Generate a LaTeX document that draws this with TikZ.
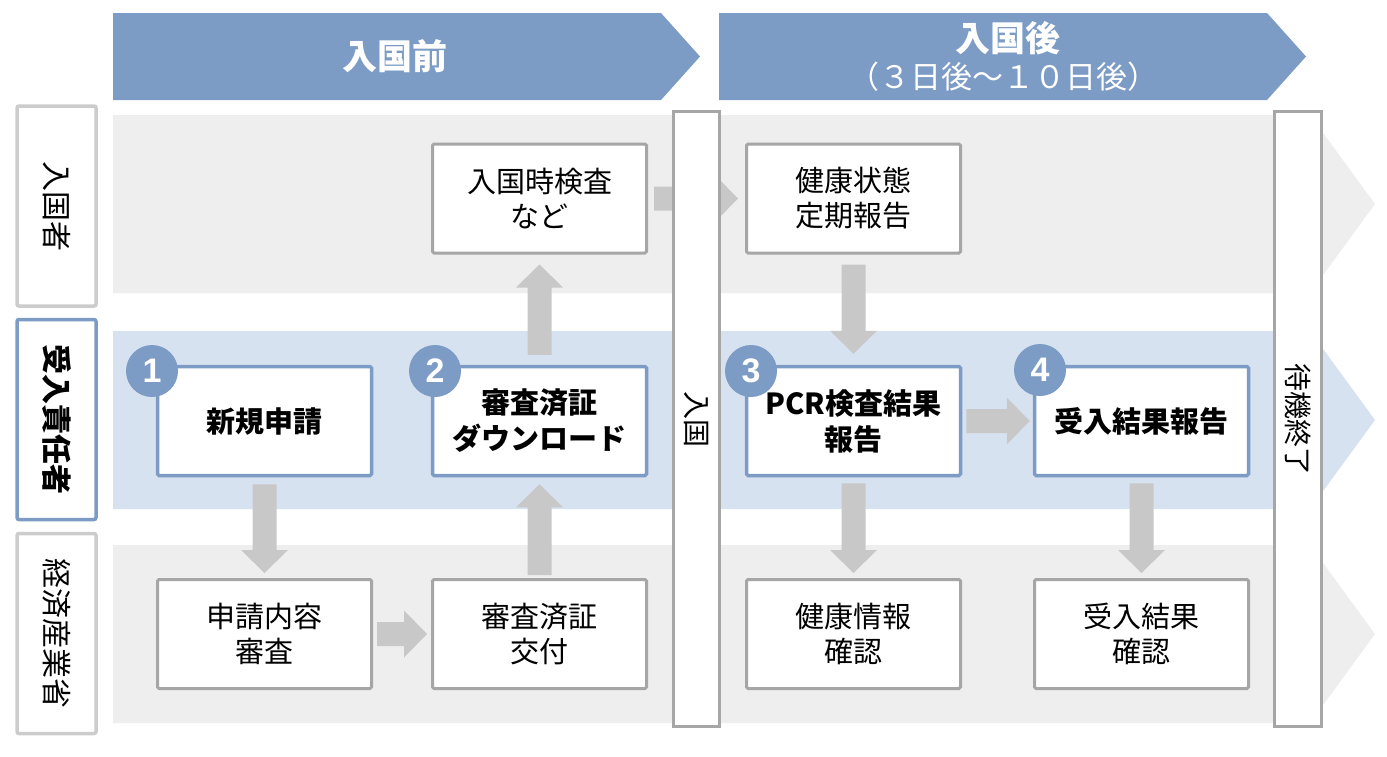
\documentclass[tikz,border=0pt]{standalone}
\usepackage{fontspec}
\setmainfont{Noto Sans CJK JP}
\newfontfamily\numfont{Liberation Sans}
\usetikzlibrary{calc}
\definecolor{hblue}{RGB}{124,155,197}
\definecolor{lband}{RGB}{215,226,241}
\definecolor{gband}{RGB}{238,238,238}
\definecolor{bgray}{RGB}{166,166,166}
\definecolor{lgray}{RGB}{204,204,204}
\definecolor{agray}{RGB}{200,200,200}
\tikzset{
  box/.style={draw=bgray, line width=3pt, fill=white, minimum width=214, minimum height=109,
    inner sep=0pt, align=center, rounded corners=1.5pt, font=\fontsize{29}{35}\selectfont},
  mainbox/.style={box, draw=hblue, line width=3.5pt, font=\bfseries\fontsize{29}{36}\selectfont},
  lanelbl/.style={draw=lgray, line width=3.5pt, fill=white, rotate=-90, minimum width=200,
    minimum height=79, inner sep=0pt, rounded corners=2pt, font=\fontsize{30}{30}\selectfont},
  mainlbl/.style={lanelbl, draw=hblue, font=\bfseries\fontsize{30}{30}\selectfont},
  vbar/.style={draw=bgray, line width=3pt, fill=white, rotate=-90, minimum width=615,
    minimum height=46, inner sep=0pt, font=\fontsize{28}{28}\selectfont},
  numc/.style={circle, fill=hblue, minimum size=52, inner sep=0pt, text=white,
    font=\numfont\bfseries\fontsize{34}{34}\selectfont},
  hdrtxt/.style={text=white, inner sep=0pt, font=\bfseries\fontsize{35}{35}\selectfont},
  hdrsub/.style={text=white, inner sep=0pt, font=\fontsize{31}{31}\selectfont}
}
\newcommand\arrdown[2]{\fill[agray] let \p1=#1, \p2=#2 in
  (\x1-12pt,\y1) -- (\x1+12pt,\y1) -- (\x1+12pt,\y2+23pt) -- (\x1+23.5pt,\y2+23pt) --
  (\x1,\y2) -- (\x1-23.5pt,\y2+23pt) -- (\x1-12pt,\y2+23pt) -- cycle;}
\newcommand\arrup[2]{\fill[agray] let \p1=#1, \p2=#2 in
  (\x1-12pt,\y1) -- (\x1+12pt,\y1) -- (\x1+12pt,\y2-23pt) -- (\x1+23.5pt,\y2-23pt) --
  (\x1,\y2) -- (\x1-23.5pt,\y2-23pt) -- (\x1-12pt,\y2-23pt) -- cycle;}
\newcommand\arrright[2]{\fill[agray] let \p1=#1, \p2=#2 in
  (\x1,\y1-12pt) -- (\x2-23pt,\y1-12pt) -- (\x2-23pt,\y1-23.5pt) -- (\x2,\y1) --
  (\x2-23pt,\y1+23.5pt) -- (\x2-23pt,\y1+12pt) -- (\x1,\y1+12pt) -- cycle;}
\begin{document}
\begin{tikzpicture}[x=1pt,y=-1pt]
\useasboundingbox (0,0) rectangle (1387,756);
% bands
\fill[gband] (113,115) -- (1310,115) -- (1375,204) -- (1310,293) -- (113,293) -- cycle;
\fill[lband] (113,331) -- (1310,331) -- (1375,420) -- (1310,509) -- (113,509) -- cycle;
\fill[gband] (113,545) -- (1310,545) -- (1375,634) -- (1310,723) -- (113,723) -- cycle;
% headers
\fill[hblue] (113,13) -- (661,13) -- (700,56.5) -- (661,100) -- (113,100) -- cycle;
\fill[hblue] (719,13) -- (1267,13) -- (1306,56.5) -- (1267,100) -- (719,100) -- cycle;
\node[hdrtxt] (h1) at (395,56) {入国前};
\node[hdrtxt] (h2) at (1008,38) {入国後};
\node[hdrsub] (h2s) at (1003,77) {（３日後～１０日後）};
% lane labels
\node[lanelbl] (l1) at (56.5,206) {入国者};
\node[mainlbl] (l2) at (56.5,419.5) {受入責任者};
\node[lanelbl] (l3) at (56.5,633.5) {経済産業省};
% boxes
\node[box] (a2) at (539.5,198.5) {入国時検査\\など};
\node[box] (a3) at (853.5,198.5) {健康状態\\定期報告};
\node[mainbox] (b1) at (264.5,421) {新規申請};
\node[mainbox] (b2) at (539.5,421) {審査済証\\ダウンロード};
\node[mainbox] (b3) at (853.5,421) {PCR検査結果\\報告};
\node[mainbox] (b4) at (1141.5,421) {受入結果報告};
\node[box] (c1) at (264.5,634) {申請内容\\審査};
\node[box] (c2) at (539.5,634) {審査済証\\交付};
\node[box] (c3) at (853.5,634) {健康情報\\確認};
\node[box] (c4) at (1141.5,634) {受入結果\\確認};
% arrows
\arrdown{([yshift=-7pt]b1.south)}{([yshift=5pt]c1.north)}
\arrright{([xshift=4pt]c1.east)}{([xshift=-4pt]c2.west)}
\arrup{([yshift=3pt]c2.north)}{([yshift=-7pt]b2.south)}
\arrup{([yshift=10pt]b2.north)}{([yshift=-10pt]a2.south)}
\arrright{([xshift=6pt]a2.east)}{([xshift=-7pt]a3.west)}
\arrdown{([yshift=-10pt]a3.south)}{([yshift=11pt]b3.north)}
\arrdown{([yshift=-6pt]b3.south)}{([yshift=5pt]c3.north)}
\arrright{([xshift=4pt]b3.east)}{([xshift=-3pt]b4.west)}
\arrdown{([yshift=-6pt]b4.south)}{([yshift=5pt]c4.north)}
% vertical bars
\node[vbar] (v1) at (696.5,419) {入国};
\node[vbar, minimum height=47] (v2) at (1298,419) {待機終了};
% number circles
\node[numc] (n1) at (152,371) {1};
\node[numc] (n2) at (435,371) {2};
\node[numc] (n3) at (751,371) {3};
\node[numc] (n4) at (1040,370) {4};
\end{tikzpicture}
\end{document}
